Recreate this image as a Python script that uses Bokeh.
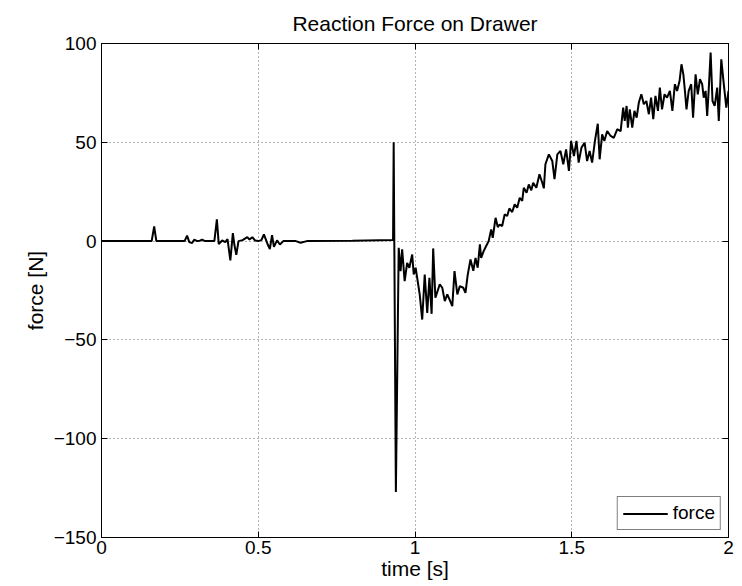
from bokeh.plotting import figure
from bokeh.models import ColumnDataSource, LinearAxis, FixedTicker, Range1d, CustomJSTickFormatter
from bokeh.embed import file_html
from bokeh.resources import INLINE

# ---- data ----
time_s = [
    0.000, 0.160, 0.168, 0.175, 0.265, 0.273, 0.280, 0.289, 0.296, 0.305,
    0.314, 0.321, 0.330, 0.360, 0.368, 0.374, 0.385, 0.395, 0.402, 0.411,
    0.419, 0.424, 0.430, 0.437, 0.450, 0.465, 0.472, 0.481, 0.490, 0.500,
    0.510, 0.518, 0.525, 0.531, 0.537, 0.544, 0.550, 0.560, 0.569, 0.580,
    0.620, 0.635, 0.655, 0.800, 0.930,
    0.932, 0.939,
    0.948, 0.954, 0.959, 0.967, 0.975, 0.982, 0.991, 0.996, 1.002, 1.007,
    1.015, 1.023, 1.031, 1.039, 1.046, 1.053, 1.058, 1.065, 1.079, 1.087,
    1.095, 1.103, 1.110, 1.119, 1.126, 1.135, 1.143, 1.154, 1.161, 1.168,
    1.177, 1.186, 1.193, 1.200, 1.207,
    1.211, 1.219, 1.227, 1.235, 1.243, 1.248, 1.257, 1.264, 1.270, 1.278,
    1.286, 1.294, 1.301, 1.310, 1.318, 1.326, 1.334, 1.342, 1.347, 1.356,
    1.363, 1.371, 1.377, 1.387, 1.397, 1.406, 1.411,
    1.416, 1.427, 1.438, 1.445, 1.454, 1.464, 1.473, 1.482, 1.491, 1.498,
    1.507, 1.515, 1.522, 1.531, 1.541, 1.549, 1.557, 1.565, 1.574, 1.583,
    1.589, 1.597, 1.604, 1.613, 1.624, 1.634, 1.645, 1.656, 1.664, 1.669,
    1.675, 1.679, 1.685, 1.693, 1.700, 1.707, 1.714, 1.722, 1.730, 1.738,
    1.746, 1.753, 1.760, 1.767, 1.775, 1.781, 1.788, 1.796, 1.804, 1.813,
    1.821, 1.829, 1.836, 1.844, 1.850, 1.856, 1.861, 1.866, 1.873, 1.881,
    1.887, 1.895, 1.902, 1.909, 1.916, 1.921, 1.927, 1.932, 1.937, 1.943,
    1.949, 1.956, 1.964, 1.969, 1.977, 1.985, 1.993, 2.000,
]
force_n = [
    0.0, 0.0, 7.4, 0.0, 0.0, 2.8, -0.5, -1.0, 0.8, 0.0,
    0.2, 0.8, 0.0, 0.0, 11.0, -1.5, 0.3, -0.5, 1.0, -9.8,
    4.0, -2.0, -7.0, 0.0, 0.5, 2.0, 0.8, 2.0, 0.3, 0.0,
    0.5, 3.4, 0.5, -2.0, -4.0, 3.0, -2.9, 0.4, -1.7, 0.0,
    0.0, -0.8, 0.0, 0.2, 0.5,
    50.0, -127.0,
    -3.4, -15.2, -4.2, -20.3, -11.0, -13.5, -6.8, -16.9, -13.5, -18.6,
    -27.0, -39.7, -16.9, -36.3, -18.6, -36.8, -3.7, -28.7, -21.9, -23.6,
    -30.4, -27.0, -29.5, -32.9, -15.2, -27.0, -22.8, -23.6, -26.2, -17.2,
    -9.3, -15.0, -8.5, -13.5, -1.7,
    -8.5, -5.1, -2.5, 0.0, 5.9, 1.7, 11.8, 7.1, 8.4, 7.6,
    13.5, 12.7, 16.5, 14.7, 18.6, 16.9, 21.9, 20.3, 27.0, 24.5,
    28.7, 25.7, 29.5, 27.0, 33.8, 29.5, 26.7,
    38.9, 43.9, 40.5, 31.3, 43.9, 45.6, 38.9, 46.4, 35.5, 50.7,
    43.0, 50.7, 39.7, 47.3, 49.8, 40.5, 45.6, 39.7, 50.7, 59.4,
    41.4, 54.0, 50.7, 55.7, 53.2, 52.3, 56.6, 55.7, 67.5, 60.8,
    68.4, 57.4, 66.7, 57.4, 65.9, 62.5, 70.1, 74.3, 69.3, 70.9,
    64.2, 72.6, 61.7, 73.5, 65.9, 77.7, 66.7, 74.3, 72.6, 76.0,
    65.9, 79.4, 76.0, 81.1, 89.5, 84.4, 76.0, 66.7, 76.0, 79.4,
    62.5, 84.4, 74.3, 81.9, 79.4, 72.6, 76.0, 63.3, 76.9, 95.4,
    70.9, 68.4, 77.7, 60.8, 92.0, 79.4, 67.5, 76.0,
]

x_ticks = [0, 0.5, 1, 1.5, 2]
x_tick_labels = ["0", "0.5", "1", "1.5", "2"]
y_ticks = [-150, -100, -50, 0, 50, 100]
y_tick_labels = ["\u2212150", "\u2212100", "\u221250", "0", "50", "100"]

FONT = "Liberation Sans"

src = ColumnDataSource(data=dict(t=time_s, f=force_n))

p = figure(
    width=742, height=586,
    x_range=Range1d(0, 2), y_range=Range1d(-150, 100),
    output_backend="svg", toolbar_location=None,
    min_border_left=101, min_border_right=14, min_border_top=43, min_border_bottom=49,
    title="Reaction Force on Drawer",
)
p.background_fill_color = "white"
p.border_fill_color = "white"
p.outline_line_color = "black"
p.outline_line_width = 1

p.title.align = "center"
p.title.vertical_align = "top"
p.title.text_font = FONT
p.title.text_font_style = "normal"
p.title.text_font_size = "21px"
p.title.text_color = "black"
p.title.standoff = 14

p.line("t", "f", source=src, line_color="black", line_width=2, legend_label="force")

# axes
for ax in (p.xaxis[0], p.yaxis[0]):
    ax.major_tick_in = 6
    ax.major_tick_out = 0
    ax.minor_tick_in = 0
    ax.minor_tick_out = 0
    ax.axis_line_color = "black"
    ax.major_tick_line_color = "black"
    ax.major_label_text_font = FONT
    ax.major_label_text_font_size = "19px"
    ax.major_label_text_color = "black"
    ax.axis_label_text_font = FONT
    ax.axis_label_text_font_size = "21px"
    ax.axis_label_text_font_style = "normal"
    ax.axis_label_text_color = "black"

p.xaxis[0].ticker = FixedTicker(ticks=x_ticks)
p.xaxis[0].major_label_overrides = dict(zip(x_ticks, x_tick_labels))
p.xaxis[0].axis_label = "time [s]"
p.xaxis[0].major_label_standoff = 3
p.xaxis[0].axis_label_standoff = 0

p.yaxis[0].ticker = FixedTicker(ticks=y_ticks)
p.yaxis[0].major_label_overrides = dict(zip(y_ticks, y_tick_labels))
p.yaxis[0].axis_label = "force [N]"
p.yaxis[0].major_label_standoff = 5
p.yaxis[0].axis_label_standoff = 4

# top / right ticks (box style), without labels
blank = CustomJSTickFormatter(code="return ''")
top_ax = LinearAxis(ticker=FixedTicker(ticks=x_ticks), formatter=blank,
                    major_tick_in=6, major_tick_out=0,
                    minor_tick_in=0, minor_tick_out=0,
                    major_label_standoff=0, axis_line_color="black")
right_ax = LinearAxis(ticker=FixedTicker(ticks=y_ticks), formatter=blank,
                      major_tick_in=6, major_tick_out=0,
                      minor_tick_in=0, minor_tick_out=0,
                      major_label_standoff=0, axis_line_color="black")
p.add_layout(top_ax, "above")
p.add_layout(right_ax, "right")

# grid
p.xgrid.ticker = FixedTicker(ticks=x_ticks)
p.ygrid.ticker = FixedTicker(ticks=y_ticks)
for g in (p.xgrid[0], p.ygrid[0]):
    g.grid_line_color = "#666666"
    g.grid_line_dash = "1 3"
    g.grid_line_width = 1

# legend
lg = p.legend[0]
lg.location = "bottom_right"
lg.margin = 7
lg.padding = 5
lg.spacing = 0
lg.border_line_color = "black"
lg.border_line_width = 1
lg.background_fill_color = "white"
lg.background_fill_alpha = 1
lg.label_text_font = FONT
lg.label_text_font_size = "19px"
lg.label_text_color = "black"
lg.glyph_width = 45
lg.glyph_height = 17
lg.label_height = 17
lg.label_standoff = 5

open("out.html", "w").write(file_html(p, INLINE))
